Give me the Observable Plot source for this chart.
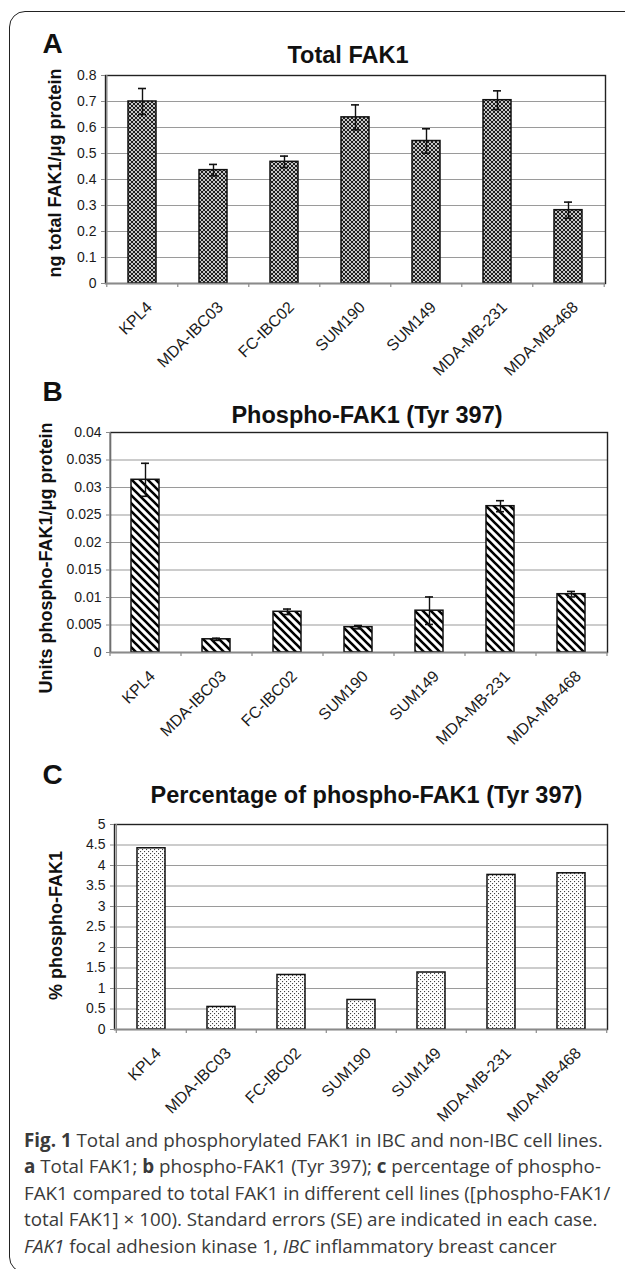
<!DOCTYPE html>
<html><head><meta charset="utf-8">
<script src="https://cdn.jsdelivr.net/npm/d3@7"></script>
<script src="https://cdn.jsdelivr.net/npm/@observablehq/plot@0.6"></script>
<style>
html,body{margin:0;padding:0;background:#fff;overflow:hidden;}
#page{position:relative;width:625px;height:1269px;overflow:hidden;background:#fff;}
#box{position:absolute;left:9px;top:11px;width:720px;height:1262px;border:1.5px solid #222;border-radius:16px;box-sizing:border-box;}
.panel{position:absolute;left:0;}
#caption{position:absolute;left:24px;top:1127px;font-family:"Open Sans",sans-serif;font-size:18px;line-height:26.5px;color:#3a3a3a;white-space:nowrap;}
#caption div{height:26.5px;}
#caption span.l{display:inline-block;}
</style></head><body>
<div id="page">
<div id="box"></div>
<div id="pa" class="panel" style="top:0px"></div>
<div id="pb" class="panel" style="top:380px"></div>
<div id="pc" class="panel" style="top:755px"></div>
<div id="caption">
<div><span class="l" id="cap1"><b>Fig. 1</b> Total and phosphorylated FAK1 in IBC and non-IBC cell lines.</span></div>
<div><b>a</b> Total FAK1; <b>b</b> phospho-FAK1 (Tyr 397); <b>c</b> percentage of phospho-</div>
<div>FAK1 compared to total FAK1 in different cell lines ([phospho-FAK1/</div>
<div>total FAK1] × 100). Standard errors (SE) are indicated in each case.</div>
<div><i>FAK1</i> focal adhesion kinase 1, <i>IBC</i> inflammatory breast cancer</div>
</div>
</div>
<script>
const cellLines = ["KPL4","MDA-IBC03","FC-IBC02","SUM190","SUM149","MDA-MB-231","MDA-MB-468"];
const totalFAK1 = [0.700,0.436,0.468,0.639,0.548,0.705,0.282];
const totalFAK1SE = [0.050,0.022,0.022,0.048,0.047,0.036,0.031];
const phosphoFAK1 = [0.0314,0.0024,0.0074,0.0046,0.0076,0.0266,0.0106];
const phosphoFAK1SE = [0.0030,0.0002,0.0005,0.0003,0.0025,0.0010,0.0005];
const percentPhospho = [4.42,0.55,1.33,0.72,1.39,3.77,3.81];
const ticksA = [0,0.1,0.2,0.3,0.4,0.5,0.6,0.7,0.8];
const ticksB = [0,0.005,0.01,0.015,0.02,0.025,0.03,0.035,0.04];
const ticksC = [0,0.5,1,1.5,2,2.5,3,3.5,4,4.5,5];

const SVGNS = "http://www.w3.org/2000/svg";
const patterns = {
  pA: '<pattern id="pA" width="4" height="4" patternUnits="userSpaceOnUse"><rect width="4" height="4" fill="#1e1e1e"/><circle cx="0" cy="0" r="1" fill="#fff"/><circle cx="4" cy="0" r="1" fill="#fff"/><circle cx="0" cy="4" r="1" fill="#fff"/><circle cx="4" cy="4" r="1" fill="#fff"/><circle cx="2" cy="2" r="1" fill="#fff"/></pattern>',
  pB: '<pattern id="pB" width="8" height="8" patternUnits="userSpaceOnUse"><rect width="8" height="8" fill="#fff"/><path d="M-2,-2L10,10M-2,6L2,10M6,-2L10,2" stroke="#000" stroke-width="2.6"/></pattern>',
  pC: '<pattern id="pC" width="4" height="4" patternUnits="userSpaceOnUse"><rect width="4" height="4" fill="#fff"/><rect x="0" y="0" width="1.1" height="1.1" fill="#444"/><rect x="2" y="2" width="1.1" height="1.1" fill="#444"/></pattern>'
};
const defsMark = (id) => () => { const d = document.createElementNS(SVGNS, "defs"); d.innerHTML = patterns[id]; return d; };

function panel(o) {
  const W = 625;
  const data = cellLines.map((c, i) => ({c, v: o.values[i], e: o.se ? o.se[i] : 0}));
  const step = (W - o.ml - o.mr) / cellLines.length;
  const marks = [
    defsMark(o.pattern),
    Plot.gridY(o.ticks, {stroke: "#9a9a9a", strokeOpacity: 1, strokeWidth: 1.2}),
    Plot.barY(data, {x: "c", y: "v", fill: `url(#${o.pattern})`, stroke: "#111", strokeWidth: 1.5}),
    Plot.frame({stroke: "#222", strokeWidth: 1.4}),
    Plot.ruleY([0], {stroke: "#8a8a8a", strokeWidth: 1.5}),
    Plot.ruleX([cellLines[0]], {x: d => d, dx: -step / 2, stroke: "#8a8a8a", strokeWidth: 1.5}),
    Plot.ruleX(cellLines, {x: d => d, y1: 0, y2: 0, dx: -step / 2, insetBottom: -4, stroke: "#8a8a8a", strokeWidth: 1.2}),
    Plot.ruleX([cellLines[cellLines.length - 1]], {x: d => d, y1: 0, y2: 0, dx: step / 2, insetBottom: -4, stroke: "#8a8a8a", strokeWidth: 1.2}),
    Plot.axisY(o.ticks, {tickFormat: d => String(d), tickSize: 4, tickPadding: 5, fontSize: 14, stroke: "#8a8a8a", fill: "#1a1a1a", label: null}),
    Plot.text(cellLines, {x: d => d, text: d => d, frameAnchor: "bottom", rotate: -45, textAnchor: "end", lineAnchor: "middle", dx: 7, dy: 21, fontSize: 16, fill: "#1a1a1a"}),
    Plot.text([o.title], {text: d => d, frameAnchor: "top", lineAnchor: "bottom", dx: o.titleDx, dy: o.titleDy, fontSize: 23.5, fontWeight: "bold", fill: "#111"}),
    Plot.text([o.ylabel], {text: d => d, frameAnchor: "left", rotate: -90, textAnchor: "middle", lineAnchor: "middle", dx: o.ylDx, dy: o.ylDy, fontSize: 18, fontWeight: "bold", fill: "#111"}),
    Plot.text([o.letter], {text: d => d, frameAnchor: "top-left", textAnchor: "start", lineAnchor: "bottom", dx: o.letterDx, dy: o.letterDy, fontSize: 28, fontWeight: "bold", fill: "#111"})
  ];
  if (o.se) {
    marks.push(
      Plot.ruleX(data, {x: "c", y1: d => d.v - d.e, y2: d => d.v + d.e, stroke: "#111", strokeWidth: 1.4}),
      Plot.tickY(data, {x: "c", y: d => d.v + d.e, insetLeft: 10, insetRight: 10, stroke: "#111", strokeWidth: 1.6}),
      Plot.tickY(data, {x: "c", y: d => d.v - d.e, insetLeft: 10, insetRight: 10, stroke: "#111", strokeWidth: 1.6})
    );
  }
  return Plot.plot({
    width: W, height: o.height,
    marginTop: o.mt, marginBottom: o.mb, marginLeft: o.ml, marginRight: o.mr,
    style: {fontFamily: "'Liberation Sans', Arial, Helvetica, sans-serif", background: "transparent", overflow: "visible", color: "#111"},
    x: {domain: cellLines, paddingInner: 0.6, paddingOuter: 0.3, axis: null},
    y: {domain: o.domain, axis: null},
    marks
  });
}

document.getElementById("pa").append(panel({
  values: totalFAK1, se: totalFAK1SE, ticks: ticksA, domain: [0, 0.8], pattern: "pA",
  title: "Total FAK1", ylabel: "ng total FAK1/μg protein", letter: "A",
  height: 380, mt: 75, mb: 97, ml: 105, mr: 20,
  titleDx: -7.5, titleDy: -13, ylDx: -50, ylDy: -6.5, letterDx: -63, letterDy: -23
}));
document.getElementById("pb").append(panel({
  values: phosphoFAK1, se: phosphoFAK1SE, ticks: ticksB, domain: [0, 0.04], pattern: "pB",
  title: "Phospho-FAK1 (Tyr 397)", ylabel: "Units phospho-FAK1/μg protein", letter: "B",
  height: 375, mt: 52, mb: 103, ml: 110, mr: 18,
  titleDx: 8, titleDy: -10, ylDx: -64.5, ylDy: 15.5, letterDx: -68, letterDy: -32
}));
document.getElementById("pc").append(panel({
  values: percentPhospho, se: null, ticks: ticksC, domain: [0, 5], pattern: "pC",
  title: "Percentage of phospho-FAK1 (Tyr 397)", ylabel: "% phospho-FAK1", letter: "C",
  height: 345, mt: 69, mb: 71, ml: 114, mr: 18,
  titleDx: 5.5, titleDy: -22, ylDx: -58, ylDy: -1.5, letterDx: -72, letterDy: -41
}));

// fit caption: first line runs from x=24 to x=603, first baseline at y=1147
(function fitCaption() {
  const cap = document.getElementById("caption");
  const w = document.getElementById("cap1").getBoundingClientRect().width;
  if (w > 0) {
    const fs = 18 * 579 / w;
    cap.style.fontSize = fs.toFixed(2) + "px";
    cap.style.top = (1147 - (26.5 / 2 + 0.388 * fs)).toFixed(1) + "px";
  }
})();
</script>
</body></html>
